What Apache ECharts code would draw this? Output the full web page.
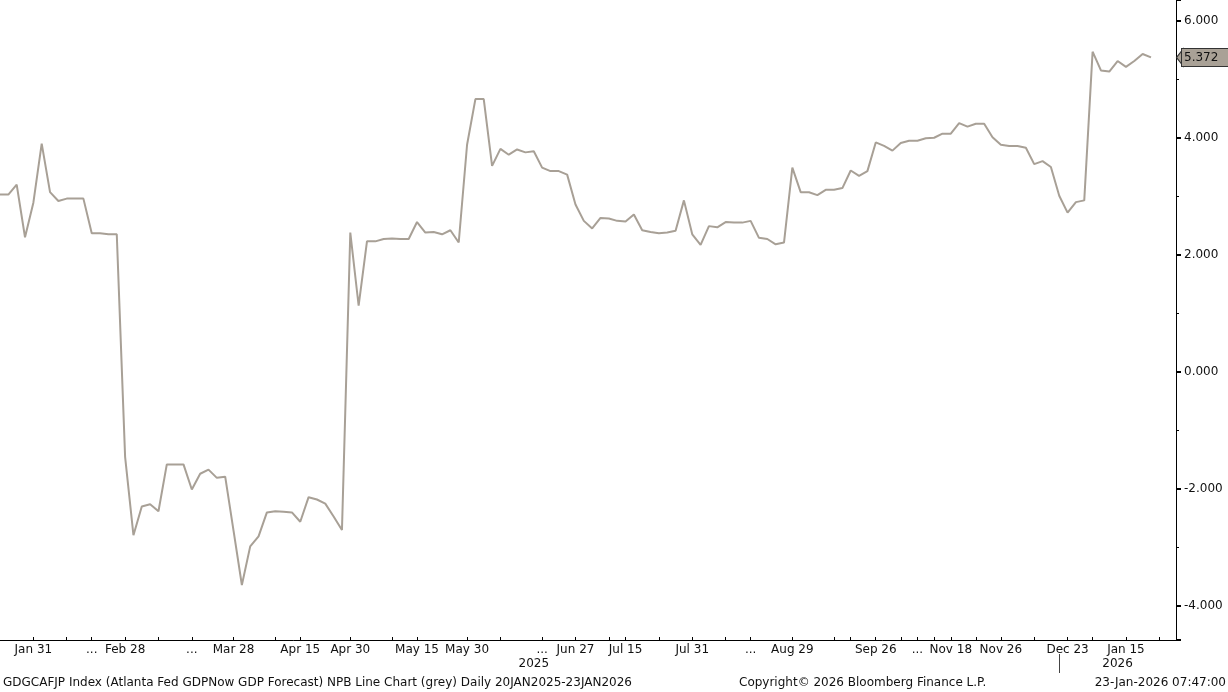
<!DOCTYPE html>
<html>
<head>
<meta charset="utf-8">
<script src="https://cdn.jsdelivr.net/npm/echarts@6/dist/echarts.min.js"></script>
<style>
html,body{margin:0;padding:0;background:#fff;}
#c{width:1228px;height:692px;}
</style>
</head>
<body>
<div id="c"></div>
<script>
// GDPNow forecast values, one per update
const values = [
  3.03, 3.03, 3.20, 2.30, 2.89, 3.90, 3.07, 2.92, 2.96, 2.96,
  2.96, 2.37, 2.37, 2.35, 2.35, -1.45, -2.79, -2.30, -2.26, -2.38,
  -1.58, -1.58, -1.58, -2.01, -1.74, -1.67, -1.81, -1.79, -2.71, -3.64,
  -2.98, -2.81, -2.40, -2.38, -2.39, -2.40, -2.56, -2.14, -2.18, -2.25,
  -2.47, -2.70, 2.38, 1.13, 2.23, 2.23, 2.27, 2.28, 2.27, 2.27,
  2.56, 2.38, 2.39, 2.35, 2.42, 2.21, 3.88, 4.66, 4.66, 3.52,
  3.81, 3.71, 3.80, 3.75, 3.77, 3.49, 3.43, 3.43, 3.37, 2.86,
  2.58, 2.45, 2.63, 2.62, 2.58, 2.57, 2.69, 2.42, 2.39, 2.37,
  2.38, 2.41, 2.93, 2.35, 2.17, 2.49, 2.47, 2.56, 2.55, 2.55,
  2.58, 2.29, 2.27, 2.18, 2.21, 3.49, 3.07, 3.07, 3.02, 3.11,
  3.11, 3.14, 3.44, 3.35, 3.43, 3.92, 3.86, 3.78, 3.91, 3.95,
  3.95, 3.99, 4.00, 4.07, 4.07, 4.25, 4.19, 4.24, 4.24, 4.01,
  3.88, 3.86, 3.86, 3.83, 3.55, 3.60, 3.50, 3.01, 2.72, 2.90,
  2.93, 5.47, 5.15, 5.13, 5.31, 5.21, 5.31, 5.43, 5.372
];
const slotCount = 142; // category slots on the axis (last few empty)
const xLabelIdx  = [4, 11, 15, 23, 28, 36, 42, 50, 56, 65, 69, 75, 83, 90, 95, 105, 110, 114, 120, 128, 135];
const xLabelText = ['Jan 31','...','Feb 28','...','Mar 28','Apr 15','Apr 30','May 15','May 30','...','Jun 27','Jul 15','Jul 31','...','Aug 29','Sep 26','...','Nov 18','Nov 26','Dec 23','Jan 15'];
const xTickIdx = [4, 8, 11, 15, 19, 23, 28, 33, 36, 42, 47, 50, 56, 60, 65, 69, 73, 75, 79, 83, 87, 90, 95, 100, 102, 105, 108, 110, 112, 114, 117, 120, 124, 128, 131, 135, 139];
const yearIdx  = [64, 134];
const yearText = ['2025', '2026'];
const yearBreakIdx = [127];
const yTickLabels = ['-4.000','-2.000','0.000','2.000','4.000','6.000'];

const categories = Array.from({length: slotCount}, (_, i) => {
  const k = xLabelIdx.indexOf(i); return k >= 0 ? xLabelText[k] : '';
});
const yearCats = Array.from({length: slotCount}, (_, i) => {
  const k = yearIdx.indexOf(i); return k >= 0 ? yearText[k] : '';
});
const last = values[values.length - 1];
const FONT = '"DejaVu Sans", "Liberation Sans", sans-serif';
const LINE = '#a8a096';

const chart = echarts.init(document.getElementById('c'), null, {renderer: 'canvas'});
chart.setOption({
  animation: false,
  backgroundColor: '#ffffff',
  grid: {left: 0, right: 52, top: 0, bottom: 52, containLabel: false},
  xAxis: [{
    type: 'category', data: categories, boundaryGap: false, position: 'bottom',
    axisLine: {show: true, onZero: false, lineStyle: {color: '#000', width: 1}},
    axisTick: {show: true, inside: true, length: 3, lineStyle: {color: '#000'},
      interval: (i) => xTickIdx.indexOf(i) >= 0},
    axisLabel: {show: true, interval: (i, v) => v !== '', margin: 4,
      fontFamily: FONT, fontSize: 12, color: '#111'},
    splitLine: {show: false}
  }, {
    type: 'category', data: yearCats, boundaryGap: false, position: 'bottom', offset: 14,
    axisLine: {show: false, onZero: false},
    axisTick: {show: true, inside: false, length: 19, lineStyle: {color: '#444'},
      interval: (i) => yearBreakIdx.indexOf(i) >= 0},
    axisLabel: {show: true, interval: (i, v) => v !== '', margin: 4,
      fontFamily: FONT, fontSize: 12, color: '#111'},
    splitLine: {show: false}
  }],
  yAxis: {
    type: 'value', position: 'right', min: -4.58, max: 6.353, splitNumber: 5,
    axisLine: {show: true, onZero: false, lineStyle: {color: '#000', width: 1}},
    axisTick: {show: true, inside: false, length: 5, lineStyle: {color: '#000', width: 2}},
    minorTick: {show: true, splitNumber: 2, length: 3, lineStyle: {color: '#000', width: 1}},
    axisLabel: {show: true, margin: 8, showMinLabel: false, showMaxLabel: false,
      fontFamily: FONT, fontSize: 12, color: '#111',
      formatter: (v) => { const s = v.toFixed(3); return yTickLabels.indexOf(s) >= 0 ? s : ''; }},
    splitLine: {show: false}
  },
  series: [{
    type: 'line', data: values, xAxisIndex: 0, showSymbol: false, symbol: 'none',
    lineStyle: {color: LINE, width: 2}, itemStyle: {color: LINE},
    markLine: {
      silent: true, symbol: ['none', 'none'],
      lineStyle: {color: 'rgba(0,0,0,0)', width: 0, type: 'solid'},
      data: [{yAxis: last}],
      label: {show: true, position: 'end', distance: 6, formatter: last.toFixed(3),
        backgroundColor: '#a9a196', borderColor: '#333', borderWidth: 1,
        padding: [3, 14, 2, 2], color: '#111', fontFamily: FONT, fontSize: 12}
    },
    markPoint: {
      silent: true, symbol: 'triangle', symbolRotate: 90, symbolSize: [18, 7],
      symbolOffset: [4, 0],
      itemStyle: {color: '#a9a196', borderColor: '#333', borderWidth: 1},
      label: {show: false},
      data: [{coord: [slotCount - 1, last]}]
    }
  }],
  graphic: [
    {type: 'text', left: 3, top: 677, style: {text: 'GDGCAFJP Index (Atlanta Fed GDPNow GDP Forecast) NPB Line Chart (grey) Daily 20JAN2025-23JAN2026', font: '12px ' + FONT, fill: '#111'}},
    {type: 'text', left: 739, top: 677, style: {text: 'Copyright\u00A9 2026 Bloomberg Finance L.P.', font: '12px ' + FONT, fill: '#111'}},
    {type: 'text', right: 2, top: 677, style: {text: '23-Jan-2026 07:47:00', font: '12px ' + FONT, fill: '#111'}}
  ]
});
</script>
</body>
</html>
